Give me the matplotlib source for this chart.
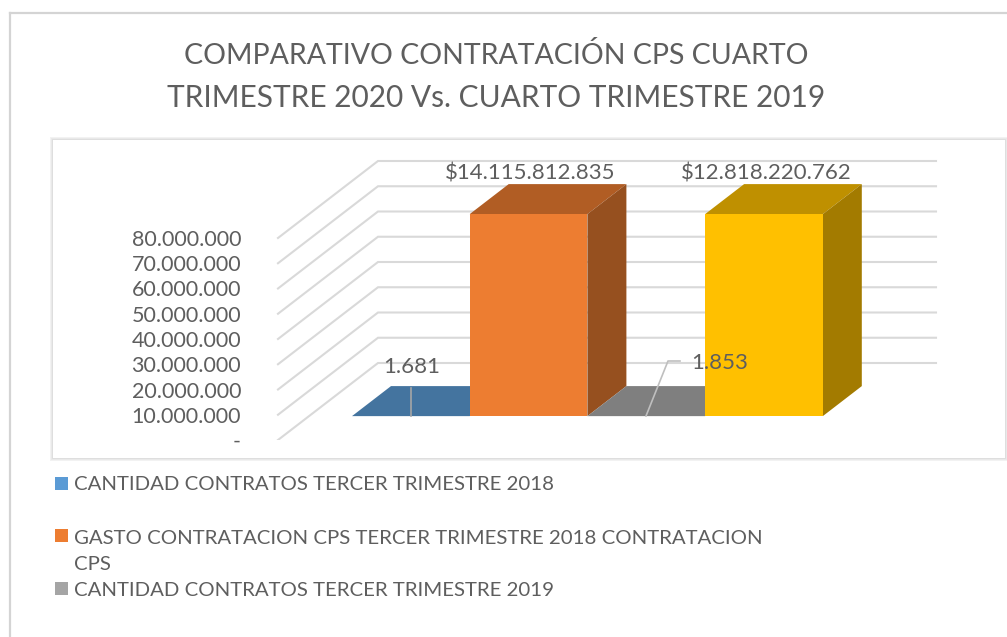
import numpy as np
import matplotlib
matplotlib.use("Agg")
import matplotlib.pyplot as plt
from matplotlib.patches import Polygon, Rectangle

# ---------- data ----------
title_lines = ["COMPARATIVO CONTRATACIÓN CPS CUARTO",
               "TRIMESTRE 2020 Vs. CUARTO TRIMESTRE 2019"]
bar_values = [1681, 14115812835, 1853, 12818220762]
bar_labels = ["1.681", "$14.115.812.835", "1.853", "$12.818.220.762"]
tick_values = [0, 10e6, 20e6, 30e6, 40e6, 50e6, 60e6, 70e6, 80e6]
tick_labels = ["-", "10.000.000", "20.000.000", "30.000.000", "40.000.000",
               "50.000.000", "60.000.000", "70.000.000", "80.000.000"]
legend_labels = ["CANTIDAD CONTRATOS TERCER TRIMESTRE 2018",
                 "GASTO CONTRATACION CPS TERCER TRIMESTRE 2018 CONTRATACION\nCPS",
                 "CANTIDAD CONTRATOS TERCER TRIMESTRE 2019"]
axis_max = 80e6

# ---------- styles ----------
front_colors = ["#5B9BD5", "#ED7D31", "#A5A5A5", "#FFC000"]
top_colors = ["#44749F", "#B15D24", "#7F7F7F", "#BF9000"]
side_colors = ["#3A6488", "#96501F", "#6C6C6C", "#A37B00"]
legend_colors = front_colors[:3]
text_gray = "#5E5E5E"
grid_gray = "#D9D9D9"
font = "Lato"

W, H = 1007, 637
fig = plt.figure(figsize=(W / 100, H / 100), dpi=100, facecolor="white")

def fx(p): return p / W
def fy(p): return 1 - p / H

# outer frame + inner panel with a soft shadow
fig.add_artist(plt.Line2D([fx(10), fx(10)], [fy(13), fy(637)], color="#D4D4D4", lw=1.6))
fig.add_artist(plt.Line2D([fx(10), fx(1007)], [fy(13), fy(13)], color="#D4D4D4", lw=1.6))
for off, col in [(3, "#F2F2F2"), (2, "#E9E9E9"), (1, "#DEDEDE")]:
    fig.add_artist(Rectangle((fx(53 - off), fy(458 + off)), (952 + 2 * off) / W, (318 + 2 * off) / H,
                             transform=fig.transFigure, fc=col, ec="none", zorder=-2))
fig.add_artist(Rectangle((fx(53), fy(458)), 952 / W, 318 / H,
                         transform=fig.transFigure, fc="white", ec="none", zorder=-1))

# axes: value scale is real; 202 px = 80M, 117.7 px = one bar
AL, AR, AT, AB = 248, 948, 150, 440
ax = fig.add_axes([fx(AL), fy(AB), (AR - AL) / W, (AB - AT) / H], facecolor="none")
PX_PER_CAT = 117.7
X0 = 321
PX_PER_VAL = 202 / axis_max
ax.set_xlim((AL - X0) / PX_PER_CAT, (AR - X0) / PX_PER_CAT)
ax.set_ylim(0, (AB - AT) / PX_PER_VAL)
DX = 100 / PX_PER_CAT
DY = 77 / PX_PER_VAL

def proj(x, v, z):
    return (x + z * DX, v + z * DY)

for s in ax.spines.values():
    s.set_visible(False)
ax.set_xticks([])
ax.set_yticks(tick_values)
ax.set_yticklabels(tick_labels, family=font, fontsize=15.5, color=text_gray)
ax.tick_params(axis="y", length=0, pad=5)

# gridlines: front-left stub + back wall
grid_left = (278 - X0) / PX_PER_CAT
grid_right = (936 - 100 - X0) / PX_PER_CAT
for v in tick_values:
    pts = [proj(grid_left, v, 0), proj(grid_left, v, 1), proj(grid_right, v, 1)]
    ax.plot(*zip(*pts), color=grid_gray, lw=1.5, zorder=1, solid_joinstyle="miter")

# bars
z0, z1 = 0.31, 0.70
for i, val in enumerate(bar_values):
    h = min(val, axis_max)
    l, r = float(i), float(i + 1)
    zo = 2 + i
    ax.add_patch(Polygon([proj(l, h, z0), proj(r, h, z0), proj(r, h, z1), proj(l, h, z1)],
                         fc=top_colors[i], ec="none", zorder=zo))
    ax.add_patch(Polygon([proj(r, 0, z0), proj(r, 0, z1), proj(r, h, z1), proj(r, h, z0)],
                         fc=side_colors[i], ec="none", zorder=zo))
    ax.add_patch(Polygon([proj(l, 0, z0), proj(r, 0, z0), proj(r, h, z0), proj(l, h, z0)],
                         fc=front_colors[i], ec="none", zorder=zo))

# data labels
def px2data(px, py):
    return ((px - X0) / PX_PER_CAT, (AB - py) / PX_PER_VAL)

offsets = [(412, 367), (530, 173), (720, 363), (766, 173)]
for lab, (px, py) in zip(bar_labels, offsets):
    x, y = px2data(px, py)
    ax.text(x, y, lab, family=font, fontsize=16, color=text_gray,
            ha="center", va="center", zorder=20, clip_on=False)

# leader lines
ax.plot(*zip(px2data(411, 416), px2data(411, 388)), color="#A6A6A6", lw=1.2, zorder=15)
ax.plot(*zip(px2data(646, 416), px2data(668, 361), px2data(680, 361)),
        color="#BFBFBF", lw=1.2, zorder=15)

# title
for line, size, py in zip(title_lines, [20.5, 21.5], [56, 98]):
    fig.text(fx(496), fy(py), line, family=font, fontsize=size, color=text_gray,
             ha="center", va="center")

# legend
for lab, col, sq_top, ty in zip(legend_labels, legend_colors, [477, 529, 582], [485, 538, 591]):
    fig.add_artist(Rectangle((fx(55), fy(sq_top + 13)), 13 / W, 13 / H,
                             transform=fig.transFigure, fc=col, ec="none"))
    for j, line in enumerate(lab.split("\n")):
        fig.text(fx(74), fy(ty + j * 26), line, family=font, fontsize=14.7,
                 color=text_gray, ha="left", va="center")

fig.savefig("out.png", dpi=100)
